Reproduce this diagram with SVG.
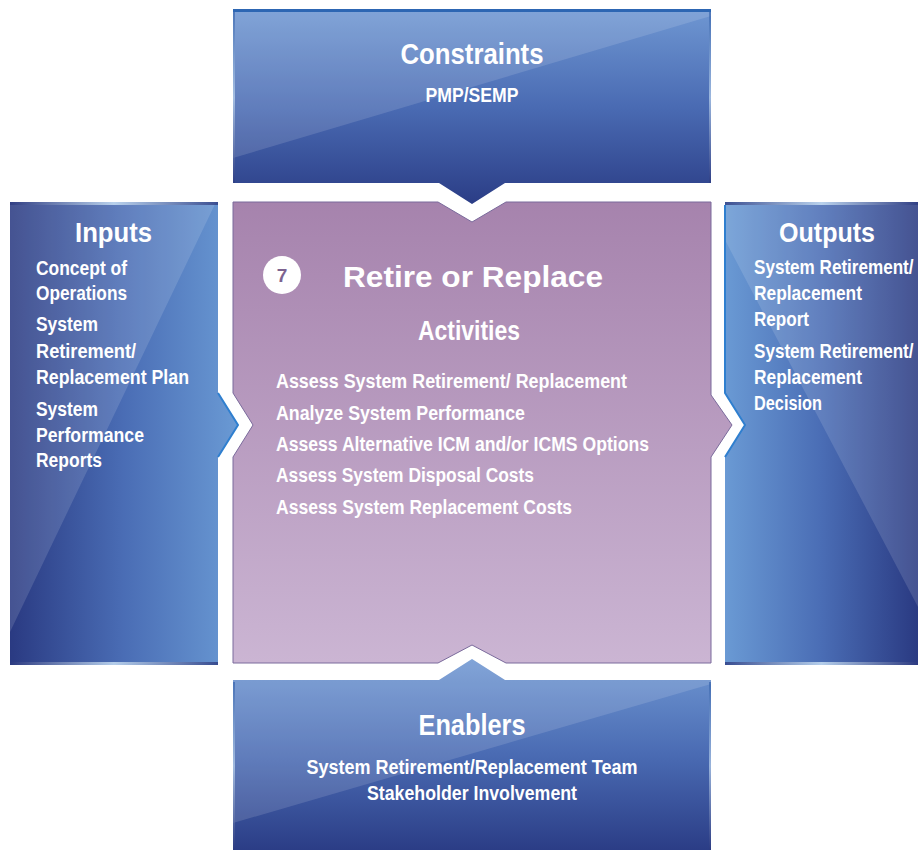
<svg xmlns="http://www.w3.org/2000/svg" width="918" height="850" viewBox="0 0 918 850">
<defs>
<linearGradient id="gV" x1="0" y1="0" x2="0" y2="1">
<stop offset="0" stop-color="#6f97d2"/>
<stop offset="0.5" stop-color="#4a6bb3"/>
<stop offset="1" stop-color="#2b3d86"/>
</linearGradient>
<linearGradient id="gL" x1="0" y1="0" x2="1" y2="0">
<stop offset="0" stop-color="#2a3a82"/>
<stop offset="0.5" stop-color="#4a6db5"/>
<stop offset="1" stop-color="#6a9ad4"/>
</linearGradient>
<linearGradient id="gR" x1="0" y1="0" x2="1" y2="0">
<stop offset="0" stop-color="#6a9ad4"/>
<stop offset="0.5" stop-color="#4a6db5"/>
<stop offset="1" stop-color="#2a3a82"/>
</linearGradient>
<linearGradient id="gC" x1="0" y1="0" x2="0" y2="1">
<stop offset="0" stop-color="#a683ad"/>
<stop offset="1" stop-color="#cbb5d3"/>
</linearGradient>
<linearGradient id="gEdgeH" x1="0" y1="0" x2="1" y2="0">
<stop offset="0" stop-color="#2c3a80"/>
<stop offset="0.5" stop-color="#cfe6f8"/>
<stop offset="1" stop-color="#2c3a80"/>
</linearGradient>
<linearGradient id="gEdgeV" x1="0" y1="0" x2="0" y2="1">
<stop offset="0" stop-color="#2c5aa6"/>
<stop offset="0.5" stop-color="#cfe6f8"/>
<stop offset="1" stop-color="#2c3a80"/>
</linearGradient>
<style>
.gloss{fill:#ffffff;fill-opacity:0.13}
.title{font-family:"Liberation Sans",Arial,sans-serif;font-weight:bold;fill:#ffffff}
.item{font-family:"Liberation Sans",Arial,sans-serif;font-weight:bold;fill:#ffffff;font-size:20px}
.act{font-family:"Liberation Sans",Arial,sans-serif;font-weight:bold;fill:#ffffff;font-size:19.5px}
</style>
</defs>

<g id="constraints">
<path d="M233,9 H711 V183 H505 L472,204 L439,183 H233 Z" fill="url(#gV)"/>
<polygon class="gloss" points="233,9 711,9 711,16 233,158"/>
<rect x="233" y="9" width="478" height="3" fill="#2d66b3"/>
<rect x="233" y="12" width="2" height="171" fill="url(#gEdgeV)" opacity="0.6"/>
<rect x="709" y="12" width="2" height="171" fill="url(#gEdgeV)" opacity="0.6"/>
<text class="title" x="472" y="64" font-size="29" text-anchor="middle" textLength="143" lengthAdjust="spacingAndGlyphs">Constraints</text>
<text class="item" x="472" y="102" text-anchor="middle" textLength="93" lengthAdjust="spacingAndGlyphs">PMP/SEMP</text>
</g>

<g id="inputs">
<path d="M10,202 H218 V393 L238,425 L218,457 V665 H10 Z" fill="url(#gL)"/>
<polygon class="gloss" points="10,202 216,202 10,632"/>
<path d="M218,393 L238,425 L218,457" fill="none" stroke="#2f7fcf" stroke-width="2"/>
<rect x="10" y="202" width="208" height="3" fill="url(#gEdgeH)" opacity="0.8"/>
<rect x="10" y="662" width="208" height="3" fill="url(#gEdgeH)" opacity="0.8"/>
<text class="title" x="75" y="242" font-size="28" textLength="77" lengthAdjust="spacingAndGlyphs">Inputs</text>
<text class="item" x="36" y="275" textLength="91" lengthAdjust="spacingAndGlyphs">Concept of</text>
<text class="item" x="36" y="300" textLength="91" lengthAdjust="spacingAndGlyphs">Operations</text>
<text class="item" x="36" y="331" textLength="62" lengthAdjust="spacingAndGlyphs">System</text>
<text class="item" x="36" y="358" textLength="100" lengthAdjust="spacingAndGlyphs">Retirement/</text>
<text class="item" x="36" y="384" textLength="153" lengthAdjust="spacingAndGlyphs">Replacement Plan</text>
<text class="item" x="36" y="416" textLength="62" lengthAdjust="spacingAndGlyphs">System</text>
<text class="item" x="36" y="442" textLength="108" lengthAdjust="spacingAndGlyphs">Performance</text>
<text class="item" x="36" y="467" textLength="66" lengthAdjust="spacingAndGlyphs">Reports</text>
</g>

<g id="outputs">
<path d="M725,202 H918 V665 H725 V457 L745,425 L725,393 Z" fill="url(#gR)"/>
<polygon class="gloss" points="725,202 918,202 918,607 725,240"/>
<path d="M725,457 L745,425 L725,393 V205" fill="none" stroke="#2f7fcf" stroke-width="2"/>
<rect x="725" y="202" width="193" height="3" fill="url(#gEdgeH)" opacity="0.8"/>
<rect x="725" y="662" width="193" height="3" fill="url(#gEdgeH)" opacity="0.8"/>
<text class="title" x="779" y="242" font-size="28" textLength="96" lengthAdjust="spacingAndGlyphs">Outputs</text>
<text class="item" x="0" y="0" transform="translate(754,274) scale(0.855,1)">System Retirement/</text>
<text class="item" x="754" y="300" textLength="108" lengthAdjust="spacingAndGlyphs">Replacement</text>
<text class="item" x="754" y="326" textLength="55" lengthAdjust="spacingAndGlyphs">Report</text>
<text class="item" x="0" y="0" transform="translate(754,358) scale(0.855,1)">System Retirement/</text>
<text class="item" x="754" y="384" textLength="108" lengthAdjust="spacingAndGlyphs">Replacement</text>
<text class="item" x="754" y="410" textLength="68" lengthAdjust="spacingAndGlyphs">Decision</text>
</g>

<g id="enablers">
<path d="M233,680 H439 L472,659 L505,680 H711 V850 H233 Z" fill="url(#gV)"/>
<polygon class="gloss" points="233,680 439,680 472,659 505,680 711,680 711,684 233,823"/>
<rect x="233" y="682" width="2" height="168" fill="url(#gEdgeV)" opacity="0.6"/>
<rect x="709" y="682" width="2" height="168" fill="url(#gEdgeV)" opacity="0.6"/>
<text class="title" x="472" y="735" font-size="29" text-anchor="middle" textLength="107" lengthAdjust="spacingAndGlyphs">Enablers</text>
<text class="item" x="472" y="774" text-anchor="middle" textLength="331" lengthAdjust="spacingAndGlyphs">System Retirement/Replacement Team</text>
<text class="item" x="472" y="800" text-anchor="middle" textLength="210" lengthAdjust="spacingAndGlyphs">Stakeholder Involvement</text>
</g>

<g id="retire-or-replace">
<path d="M233,202 H438 L472,222 L506,202 H711 V395 L732,425 L711,457 V663 H506 L472,645 L438,663 H233 V457 L253,425 L233,393 Z" fill="url(#gC)" stroke="#7a6a9c" stroke-width="1"/>
<circle cx="282" cy="275" r="19" fill="#ffffff"/>
<text x="282" y="282" font-family="Liberation Sans, Arial, sans-serif" font-weight="bold" font-size="19" fill="#7d6390" text-anchor="middle">7</text>
<text class="title" x="343" y="287" font-size="29" textLength="260" lengthAdjust="spacingAndGlyphs">Retire or Replace</text>
<text class="title" x="469" y="340" font-size="27" text-anchor="middle" textLength="102" lengthAdjust="spacingAndGlyphs">Activities</text>
<text class="act" x="276" y="388" textLength="351" lengthAdjust="spacingAndGlyphs">Assess System Retirement/ Replacement</text>
<text class="act" x="276" y="420" textLength="249" lengthAdjust="spacingAndGlyphs">Analyze System Performance</text>
<text class="act" x="276" y="451" textLength="373" lengthAdjust="spacingAndGlyphs">Assess Alternative ICM and/or ICMS Options</text>
<text class="act" x="276" y="482" textLength="258" lengthAdjust="spacingAndGlyphs">Assess System Disposal Costs</text>
<text class="act" x="276" y="514" textLength="296" lengthAdjust="spacingAndGlyphs">Assess System Replacement Costs</text>
</g>

<g id="connectors"></g>
</svg>
